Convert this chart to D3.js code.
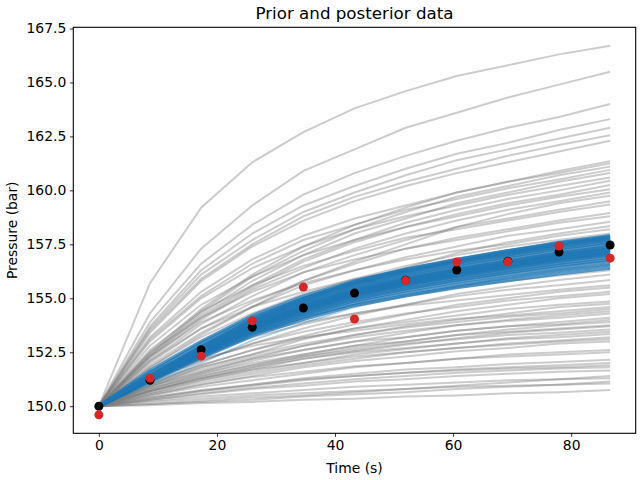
<!DOCTYPE html>
<html>
<head>
<meta charset="utf-8">
<script src="https://cdn.jsdelivr.net/npm/d3@7"></script>
<style>
  body { margin: 0; background: #fff; }
  svg { font-family: "DejaVu Sans", sans-serif; }
</style>
</head>
<body>
<div id="chart"></div>
<script>
const times = [0, 8.66, 17.32, 25.98, 34.64, 43.3, 51.96, 60.62, 69.28, 77.94, 86.6];

/* true pressure (black) and noisy observations (red) */
const truePressure = [150.0, 151.2, 152.62, 153.66, 154.55, 155.24, 155.84, 156.31, 156.72, 157.14, 157.47];
const observedPressure = [149.6, 151.3, 152.32, 153.96, 155.52, 154.04, 155.82, 156.68, 156.69, 157.42, 156.86];

/* prior samples (grey) */
const priorCurves = [
  [150, 155.7, 159.2, 161.3, 162.7, 163.8, 164.6, 165.3, 165.8, 166.3, 166.7],
  [150, 154.3, 157.3, 159.3, 160.9, 161.9, 162.9, 163.6, 164.3, 164.9, 165.5],
  [150, 153.9, 156.6, 158.4, 159.8, 160.8, 161.6, 162.3, 162.9, 163.4, 164.0],
  [150, 153.7, 156.3, 158.0, 159.3, 160.2, 161.0, 161.7, 162.2, 162.8, 163.3],
  [150, 153.6, 156.1, 157.7, 159.0, 159.9, 160.7, 161.4, 161.9, 162.4, 162.9],
  [150, 153.5, 155.9, 157.5, 158.8, 159.7, 160.4, 161.0, 161.6, 162.1, 162.55],
  [150, 153.4, 155.8, 157.4, 158.6, 159.5, 160.2, 160.8, 161.3, 161.8, 162.3],
  [150, 152.5, 154.5, 156.1, 157.4, 158.4, 159.2, 159.9, 160.4, 160.9, 161.35],
  [150, 153.2, 155.3, 156.8, 157.9, 158.7, 159.3, 159.9, 160.4, 160.8, 161.25],
  [150, 152.4, 154.4, 156.0, 157.2, 158.2, 159.0, 159.7, 160.2, 160.7, 161.1],
  [150, 153.1, 155.1, 156.6, 157.7, 158.4, 159.1, 159.6, 160.1, 160.5, 160.95],
  [150, 152.4, 154.3, 155.8, 157.0, 158.0, 158.7, 159.4, 159.9, 160.4, 160.8],
  [150, 153.0, 155.0, 156.4, 157.4, 158.2, 158.8, 159.3, 159.8, 160.2, 160.6],
  [150, 152.3, 154.2, 155.6, 156.8, 157.7, 158.5, 159.1, 159.6, 160.0, 160.45],
  [150, 152.3, 154.1, 155.5, 156.7, 157.6, 158.3, 158.9, 159.4, 159.8, 160.25],
  [150, 152.8, 154.7, 156.0, 157.0, 157.7, 158.3, 158.8, 159.3, 159.7, 160.05],
  [150, 152.2, 154.0, 155.4, 156.4, 157.3, 158.0, 158.6, 159.1, 159.5, 159.9],
  [150, 151.8, 153.3, 154.6, 155.8, 156.7, 157.5, 158.3, 158.9, 159.4, 159.75],
  [150, 152.1, 153.8, 155.1, 156.2, 157.0, 157.7, 158.3, 158.7, 159.1, 159.5],
  [150, 152.6, 154.4, 155.6, 156.5, 157.2, 157.8, 158.2, 158.6, 159.0, 159.35],
  [150, 152.0, 153.6, 154.8, 155.8, 156.6, 157.3, 157.8, 158.2, 158.6, 158.95],
  [150, 152.5, 154.1, 155.3, 156.2, 156.8, 157.3, 157.7, 158.1, 158.5, 158.8],
  [150, 151.9, 153.4, 154.6, 155.6, 156.3, 156.9, 157.4, 157.9, 158.2, 158.55],
  [150, 151.5, 152.8, 153.9, 154.9, 155.8, 156.4, 157.1, 157.6, 158.0, 158.35],
  [150, 152.3, 153.9, 154.9, 155.7, 156.3, 156.8, 157.2, 157.5, 157.9, 158.2],
  [150, 151.8, 153.2, 154.3, 155.2, 155.9, 156.5, 157.0, 157.4, 157.7, 158.0],
  [150, 152.1, 153.6, 154.6, 155.3, 155.9, 156.3, 156.7, 157.0, 157.3, 157.6],
  [150, 151.4, 152.5, 153.4, 154.1, 154.7, 155.1, 155.5, 155.8, 156.05, 156.3],
  [150, 151.1, 152.1, 152.9, 153.6, 154.2, 154.7, 155.2, 155.55, 155.85, 156.1],
  [150, 151.3, 152.3, 153.2, 153.8, 154.3, 154.7, 155.1, 155.4, 155.6, 155.85],
  [150, 151.6, 152.6, 153.4, 153.9, 154.3, 154.65, 154.9, 155.15, 155.4, 155.6],
  [150, 151.0, 151.9, 152.6, 153.25, 153.8, 154.25, 154.7, 155.0, 155.3, 155.5],
  [150, 151.2, 152.1, 152.9, 153.45, 153.9, 154.3, 154.6, 154.9, 155.1, 155.3],
  [150, 150.9, 151.8, 152.4, 153.1, 153.6, 154.0, 154.4, 154.7, 155.0, 155.2],
  [150, 151.1, 151.9, 152.6, 153.15, 153.6, 153.9, 154.2, 154.5, 154.7, 154.85],
  [150, 150.9, 151.6, 152.2, 152.8, 153.3, 153.7, 154.0, 154.3, 154.6, 154.75],
  [150, 151.3, 152.2, 152.8, 153.2, 153.5, 153.8, 154.05, 154.2, 154.4, 154.6],
  [150, 151.0, 151.8, 152.4, 152.9, 153.3, 153.65, 153.9, 154.15, 154.3, 154.5],
  [150, 150.8, 151.5, 152.1, 152.6, 153.0, 153.4, 153.75, 154.0, 154.2, 154.4],
  [150, 150.95, 151.7, 152.3, 152.8, 153.2, 153.5, 153.75, 153.95, 154.1, 154.3],
  [150, 150.7, 151.4, 151.9, 152.4, 152.8, 153.2, 153.5, 153.7, 153.9, 154.1],
  [150, 150.9, 151.6, 152.2, 152.6, 153.0, 153.2, 153.5, 153.7, 153.8, 154.0],
  [150, 150.7, 151.3, 151.8, 152.3, 152.7, 153.0, 153.3, 153.55, 153.75, 153.9],
  [150, 150.8, 151.5, 152.0, 152.4, 152.8, 153.0, 153.3, 153.45, 153.6, 153.75],
  [150, 150.7, 151.3, 151.7, 152.2, 152.55, 152.85, 153.15, 153.4, 153.55, 153.7],
  [150, 150.8, 151.4, 151.9, 152.3, 152.6, 152.9, 153.1, 153.3, 153.4, 153.55],
  [150, 150.6, 151.2, 151.6, 152.0, 152.4, 152.65, 152.9, 153.15, 153.3, 153.45],
  [150, 150.7, 151.3, 151.8, 152.2, 152.5, 152.7, 152.9, 153.1, 153.2, 153.35],
  [150, 150.6, 151.1, 151.5, 151.9, 152.2, 152.5, 152.7, 152.9, 153.05, 153.2],
  [150, 150.7, 151.2, 151.7, 152.0, 152.3, 152.5, 152.7, 152.85, 153.0, 153.1],
  [150, 150.5, 151.0, 151.4, 151.8, 152.1, 152.3, 152.55, 152.7, 152.9, 153.0],
  [150, 150.5, 150.9, 151.2, 151.5, 151.8, 152.0, 152.2, 152.4, 152.5, 152.6],
  [150, 150.55, 151.0, 151.35, 151.6, 151.85, 152.0, 152.2, 152.3, 152.4, 152.5],
  [150, 150.4, 150.7, 151.0, 151.3, 151.5, 151.7, 151.8, 151.95, 152.05, 152.15],
  [150, 150.35, 150.7, 150.95, 151.2, 151.4, 151.55, 151.7, 151.8, 151.9, 152.0],
  [150, 150.4, 150.75, 151.0, 151.25, 151.4, 151.55, 151.65, 151.75, 151.8, 151.9],
  [150, 150.3, 150.6, 150.85, 151.05, 151.25, 151.4, 151.55, 151.65, 151.75, 151.8],
  [150, 150.3, 150.55, 150.8, 150.95, 151.15, 151.25, 151.4, 151.5, 151.6, 151.65],
  [150, 150.1, 150.25, 150.4, 150.5, 150.65, 150.8, 150.95, 151.1, 151.25, 151.4],
  [150, 150.25, 150.45, 150.6, 150.75, 150.9, 151.0, 151.1, 151.2, 151.25, 151.3],
  [150, 150.1, 150.2, 150.3, 150.45, 150.55, 150.65, 150.8, 150.9, 151.0, 151.15],
  [150, 150.2, 150.35, 150.5, 150.6, 150.7, 150.8, 150.9, 150.95, 151.0, 151.05],
  [150, 150.05, 150.15, 150.2, 150.3, 150.35, 150.45, 150.5, 150.6, 150.65, 150.75]
];

/* posterior samples (blue) */
const posteriorCurves = [
  [150, 151.0, 152.0, 153.05, 153.85, 154.6, 155.1, 155.55, 155.95, 156.3, 156.55],
  [150, 151.15, 152.24, 153.26, 154.03, 154.67, 155.12, 155.5, 155.82, 156.14, 156.4],
  [150, 151.18, 152.29, 153.34, 154.13, 154.78, 155.24, 155.63, 155.96, 156.29, 156.55],
  [150, 151.21, 152.35, 153.42, 154.22, 154.89, 155.36, 155.76, 156.1, 156.43, 156.7],
  [150, 151.22, 152.38, 153.47, 154.28, 154.96, 155.44, 155.85, 156.19, 156.53, 156.8],
  [150, 151.24, 152.42, 153.52, 154.35, 155.04, 155.52, 155.93, 156.28, 156.62, 156.9],
  [150, 151.26, 152.45, 153.57, 154.41, 155.11, 155.6, 156.02, 156.37, 156.72, 157.0],
  [150, 151.27, 152.47, 153.6, 154.44, 155.15, 155.64, 156.06, 156.42, 156.77, 157.05],
  [150, 151.28, 152.49, 153.62, 154.47, 155.18, 155.68, 156.11, 156.46, 156.82, 157.1],
  [150, 151.29, 152.5, 153.65, 154.5, 155.22, 155.72, 156.15, 156.51, 156.86, 157.15],
  [150, 151.3, 152.52, 153.67, 154.54, 155.26, 155.76, 156.19, 156.55, 156.91, 157.2],
  [150, 151.31, 152.54, 153.7, 154.57, 155.29, 155.8, 156.24, 156.6, 156.96, 157.25],
  [150, 151.31, 152.56, 153.72, 154.6, 155.33, 155.84, 156.28, 156.64, 157.01, 157.3],
  [150, 151.32, 152.57, 153.75, 154.63, 155.37, 155.88, 156.32, 156.69, 157.06, 157.35],
  [150, 151.33, 152.59, 153.77, 154.66, 155.4, 155.92, 156.36, 156.73, 157.1, 157.4],
  [150, 151.35, 152.63, 153.83, 154.73, 155.48, 156.0, 156.45, 156.83, 157.2, 157.5],
  [150, 151.37, 152.66, 153.88, 154.79, 155.55, 156.08, 156.54, 156.92, 157.3, 157.6],
  [150, 151.39, 152.7, 153.93, 154.85, 155.62, 156.16, 156.62, 157.01, 157.39, 157.7],
  [150, 151.4, 152.73, 153.98, 154.91, 155.69, 156.24, 156.71, 157.1, 157.49, 157.8],
  [150, 151.42, 152.77, 154.03, 154.98, 155.77, 156.32, 156.79, 157.19, 157.58, 157.9],
  [150, 151.55, 152.9, 154.1, 155.0, 155.7, 156.25, 156.7, 157.1, 157.45, 157.75],
  [150, 151.65, 153.0, 154.2, 155.1, 155.8, 156.35, 156.8, 157.2, 157.55, 157.85]
];

const margin = { top: 27.3, right: 4.3, bottom: 46.7, left: 73.3 };
const W = 640, H = 480;
const width = W - margin.left - margin.right;
const height = H - margin.top - margin.bottom;

const svg = d3.select('#chart').append('svg')
    .attr('width', W)
    .attr('height', H);

/* matplotlib style 5% margins */
const tExt = d3.extent(times);
const allY = [...priorCurves.flat(), ...posteriorCurves.flat(), ...truePressure, ...observedPressure];
const yExt = d3.extent(allY);
const tPad = (tExt[1] - tExt[0]) * 0.05;
const yPad = (yExt[1] - yExt[0]) * 0.05;

const x = d3.scaleLinear().domain([tExt[0] - tPad, tExt[1] + tPad]).range([0, width]);
const y = d3.scaleLinear().domain([yExt[0] - yPad, yExt[1] + yPad]).range([height, 0]);

const chart = svg.append('g').attr('transform', `translate(${margin.left},${margin.top})`);

const line = d3.line()
    .x((d, i) => x(times[i]))
    .y(d => y(d));

chart.append('g').attr('class', 'prior')
  .selectAll('path').data(priorCurves).join('path')
    .attr('d', line)
    .attr('fill', 'none')
    .attr('stroke', '#808080')
    .attr('stroke-opacity', 0.4)
    .attr('stroke-width', 2);

chart.append('g').attr('class', 'posterior')
  .selectAll('path').data(posteriorCurves).join('path')
    .attr('d', line)
    .attr('fill', 'none')
    .attr('stroke', '#1f77b4')
    .attr('stroke-opacity', (d, i) => i === 0 ? 0.35 : 0.75)
    .attr('stroke-width', (d, i) => i === 0 ? 2 : 3.5);

chart.append('g').selectAll('circle').data(truePressure).join('circle')
    .attr('cx', (d, i) => x(times[i]))
    .attr('cy', d => y(d))
    .attr('r', 4.5)
    .attr('fill', '#000');

chart.append('g').selectAll('circle').data(observedPressure).join('circle')
    .attr('cx', (d, i) => x(times[i]))
    .attr('cy', d => y(d))
    .attr('r', 4.5)
    .attr('fill', '#d62728');

/* axes */
const xAxis = chart.append('g')
    .attr('transform', `translate(0,${height})`)
    .call(d3.axisBottom(x).tickValues([0, 20, 40, 60, 80]).tickSize(3.5).tickPadding(3.5));
const yAxis = chart.append('g')
    .call(d3.axisLeft(y).tickValues(d3.range(150, 167.6, 2.5)).tickFormat(d3.format('.1f')).tickSize(3.5).tickPadding(3.5));

[xAxis, yAxis].forEach(a => {
  a.select('.domain').remove();
  a.selectAll('.tick line').attr('stroke', '#000').attr('stroke-width', 0.8);
  a.selectAll('.tick text').attr('font-size', 13.9).attr('fill', '#000')
      .attr('font-family', '"DejaVu Sans", sans-serif');
});

chart.append('rect')
    .attr('width', width)
    .attr('height', height)
    .attr('fill', 'none')
    .attr('stroke', '#000')
    .attr('stroke-width', 1.1);

svg.append('text')
    .attr('x', margin.left + width / 2)
    .attr('y', 18.5)
    .attr('text-anchor', 'middle')
    .attr('font-size', 16.7)
    .text('Prior and posterior data');

svg.append('text')
    .attr('x', margin.left + width / 2)
    .attr('y', 473)
    .attr('text-anchor', 'middle')
    .attr('font-size', 13.9)
    .text('Time (s)');

svg.append('text')
    .attr('transform', `translate(17,${margin.top + height / 2}) rotate(-90)`)
    .attr('text-anchor', 'middle')
    .attr('font-size', 13.9)
    .text('Pressure (bar)');
</script>
</body>
</html>
